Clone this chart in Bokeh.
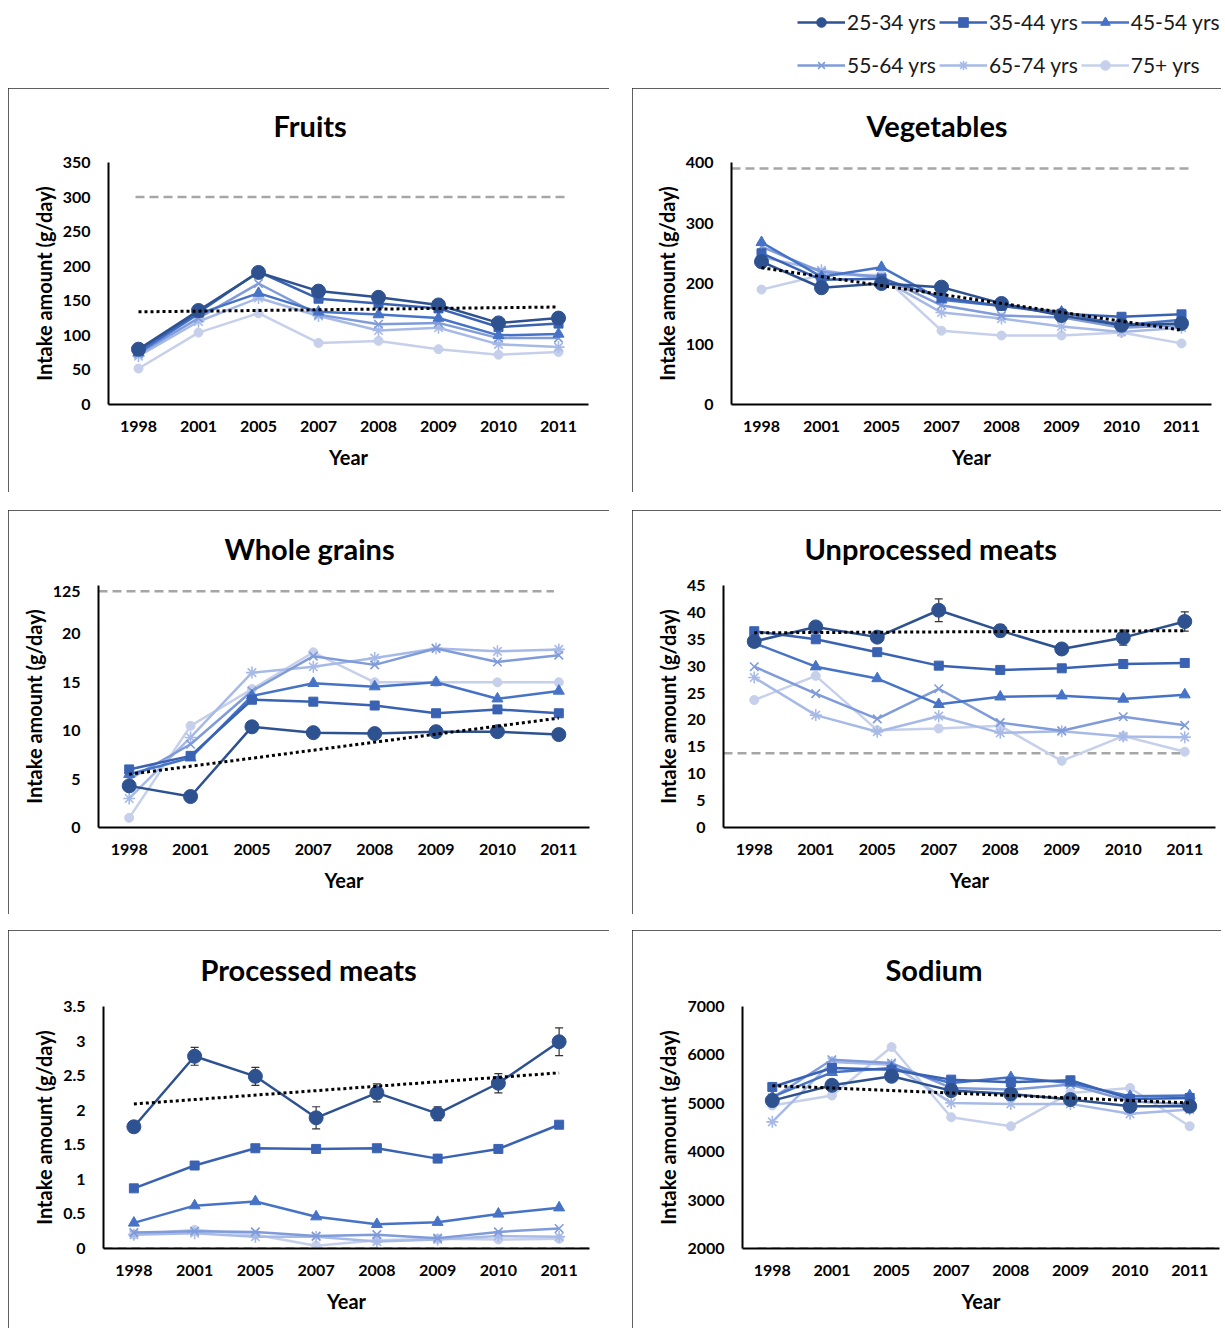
from bokeh.plotting import figure
from bokeh.models import (ColumnDataSource, FactorRange, Range1d, FixedTicker,
                          Whisker, TeeHead, Legend, LegendItem, Spacer)
from bokeh.layouts import column, row
from bokeh.embed import file_html
from bokeh.resources import INLINE

# ---------------- data ----------------
years = ["1998", "2001", "2005", "2007", "2008", "2009", "2010", "2011"]
age_groups = ["25-34 yrs", "35-44 yrs", "45-54 yrs", "55-64 yrs", "65-74 yrs", "75+ yrs"]

# Fruits (g/day)
fruits_25_34 = [80, 136, 191, 164, 155, 144, 118, 125]
fruits_35_44 = [78, 133, 192, 153, 146, 139, 112, 117]
fruits_45_54 = [75, 131, 161, 134, 130, 125, 100, 102]
fruits_55_64 = [73, 125, 175, 130, 116, 118, 96, 96]
fruits_65_74 = [70, 120, 154, 128, 107, 111, 87, 83]
fruits_75_plus = [52, 104, 132, 89, 92, 80, 72, 76]
fruits_err = [5, 6, 6, 6, 5, 5, 5, 6]
fruits_trend = [134, 141]
fruits_target = 300
fruits_ticks = [0, 50, 100, 150, 200, 250, 300, 350]
fruits_tick_labels = ["0", "50", "100", "150", "200", "250", "300", "350"]

# Vegetables (g/day)
veg_25_34 = [236, 193, 200, 194, 167, 147, 131, 134]
veg_35_44 = [250, 206, 208, 177, 163, 150, 145, 149]
veg_45_54 = [268, 211, 227, 173, 163, 153, 131, 140]
veg_55_64 = [261, 219, 211, 164, 147, 144, 127, 131]
veg_65_74 = [244, 222, 208, 152, 142, 129, 120, 127]
veg_75_plus = [190, 214, 214, 122, 114, 114, 119, 101]
veg_err = [6, 5, 5, 6, 5, 5, 4, 5]
veg_trend = [226, 123]
veg_target = 390
veg_ticks = [0, 100, 200, 300, 400]
veg_tick_labels = ["0", "100", "200", "300", "400"]

# Whole grains (g/day)
grains_25_34 = [4.3, 3.2, 10.4, 9.8, 9.7, 9.9, 9.9, 9.6]
grains_35_44 = [6.0, 7.4, 13.2, 13.0, 12.6, 11.8, 12.2, 11.8]
grains_45_54 = [5.5, 7.2, 13.6, 14.9, 14.55, 15.0, 13.3, 14.1]
grains_55_64 = [5.0, 8.6, 14.1, 17.7, 16.8, 18.5, 17.1, 17.8]
grains_65_74 = [3.0, 9.3, 16.0, 16.6, 17.5, 18.5, 18.2, 18.4]
grains_75_plus = [1.0, 10.5, 14.3, 18.1, 15.0, 15.0, 15.0, 15.0]
grains_err = [0.4, 0.3, 0.4, 0.5, 0.4, 0.4, 0.4, 0.4]
grains_trend = [5.5, 11.3]
grains_target = 24.4
grains_ticks = [0, 5, 10, 15, 20, 24.4]
grains_tick_labels = ["0", "5", "10", "15", "20", "125"]

# Unprocessed meats (g/day)
unproc_25_34 = [34.6, 37.3, 35.4, 40.4, 36.6, 33.2, 35.3, 38.3]
unproc_35_44 = [36.5, 35.0, 32.6, 30.1, 29.3, 29.6, 30.4, 30.6]
unproc_45_54 = [34.3, 29.9, 27.7, 22.9, 24.3, 24.5, 23.9, 24.7]
unproc_55_64 = [29.9, 24.9, 20.2, 25.8, 19.5, 18.0, 20.6, 19.0]
unproc_65_74 = [27.9, 20.9, 17.8, 20.7, 17.6, 17.9, 16.9, 16.8]
unproc_75_plus = [23.7, 28.2, 18.1, 18.4, 18.9, 12.4, 17.0, 14.1]
unproc_err = [0.9, 0.9, 0.9, 2.1, 1.1, 0.9, 1.4, 1.8]
unproc_trend = [36.2, 36.6]
unproc_target = 13.8
unproc_ticks = [0, 5, 10, 15, 20, 25, 30, 35, 40, 45]
unproc_tick_labels = ["0", "5", "10", "15", "20", "25", "30", "35", "40", "45"]

# Processed meats (g/day)
proc_25_34 = [1.76, 2.78, 2.49, 1.89, 2.25, 1.95, 2.39, 2.99]
proc_35_44 = [0.87, 1.20, 1.45, 1.44, 1.45, 1.30, 1.44, 1.79]
proc_45_54 = [0.37, 0.62, 0.68, 0.46, 0.35, 0.38, 0.50, 0.59]
proc_55_64 = [0.23, 0.25, 0.24, 0.18, 0.20, 0.15, 0.24, 0.29]
proc_65_74 = [0.20, 0.22, 0.17, 0.17, 0.10, 0.13, 0.18, 0.17]
proc_75_plus = [0.20, 0.27, 0.20, 0.04, 0.12, 0.14, 0.13, 0.14]
proc_err = [0.08, 0.13, 0.13, 0.16, 0.13, 0.10, 0.14, 0.20]
proc_trend = [2.09, 2.54]
proc_target = 0
proc_ticks = [0, 0.5, 1, 1.5, 2, 2.5, 3, 3.5]
proc_tick_labels = ["0", "0.5", "1", "1.5", "2", "2.5", "3", "3.5"]

# Sodium (mg/day)
sodium_25_34 = [5056, 5372, 5558, 5262, 5194, 5077, 4940, 4940]
sodium_35_44 = [5338, 5729, 5695, 5489, 5434, 5475, 5091, 5111]
sodium_45_54 = [5132, 5640, 5729, 5420, 5537, 5420, 5146, 5160]
sodium_55_64 = [5111, 5901, 5832, 5317, 5283, 5386, 5043, 4974]
sodium_65_74 = [4617, 5853, 5798, 5008, 4988, 4988, 4782, 4871]
sodium_75_plus = [4953, 5160, 6162, 4713, 4527, 5214, 5317, 4527]
sodium_err = [60, 70, 70, 70, 60, 60, 70, 70]
sodium_trend = [5365, 5008]
sodium_target = 2000
sodium_ticks = [2000, 3000, 4000, 5000, 6000, 7000]
sodium_tick_labels = ["2000", "3000", "4000", "5000", "6000", "7000"]

# ---------------- styles ----------------
FONT = "Lato"
COLORS = ["#2E5190", "#3A62B3", "#4773C7", "#7F9BDA", "#A7BAE7", "#C6D0EB"]
MARKERS = ["circle", "square", "triangle", "x", "asterisk", "circle"]
SIZES = [14, 9, 11, 12, 12, 9]
MLW = [1, 1, 1, 1.6, 1.6, 1]

panels = [
    dict(title="Fruits", series=[fruits_25_34, fruits_35_44, fruits_45_54, fruits_55_64, fruits_65_74, fruits_75_plus],
         err=fruits_err, trend=fruits_trend, target=fruits_target, ticks=fruits_ticks, labels=fruits_tick_labels,
         yr=(0, 350), w=601, h=404, left=100, fw=480, top=74, bottom=88, toff=165, tgt=(-0.05, 0.1), clip=(False, False)),
    dict(title="Vegetables", series=[veg_25_34, veg_35_44, veg_45_54, veg_55_64, veg_65_74, veg_75_plus],
         err=veg_err, trend=veg_trend, target=veg_target, ticks=veg_ticks, labels=veg_tick_labels,
         yr=(0, 400), w=591, h=404, left=99, fw=480, top=74, bottom=88, toff=135, tgt=(-0.5, 0.12), clip=(True, False)),
    dict(title="Whole grains", series=[grains_25_34, grains_35_44, grains_45_54, grains_55_64, grains_65_74, grains_75_plus],
         err=grains_err, trend=grains_trend, target=grains_target, ticks=grains_ticks, labels=grains_tick_labels,
         yr=(0, 25), w=601, h=404, left=90, fw=491, top=75, bottom=87, toff=126, tgt=(-0.5, -0.08), clip=(False, False)),
    dict(title="Unprocessed meats", series=[unproc_25_34, unproc_35_44, unproc_45_54, unproc_55_64, unproc_65_74, unproc_75_plus],
         err=unproc_err, trend=unproc_trend, target=unproc_target, ticks=unproc_ticks, labels=unproc_tick_labels,
         yr=(0, 45), w=591, h=404, left=91, fw=492, top=74, bottom=87, toff=81, tgt=(-0.5, -0.07), clip=(True, False)),
    dict(title="Processed meats", series=[proc_25_34, proc_35_44, proc_45_54, proc_55_64, proc_65_74, proc_75_plus],
         err=proc_err, trend=proc_trend, target=proc_target, ticks=proc_ticks, labels=proc_tick_labels,
         yr=(0, 3.5), w=601, h=400, left=95, fw=486, top=76, bottom=82, toff=97, tgt=(-0.5, 0.5), clip=(False, True)),
    dict(title="Sodium", series=[sodium_25_34, sodium_35_44, sodium_45_54, sodium_55_64, sodium_65_74, sodium_75_plus],
         err=sodium_err, trend=sodium_trend, target=sodium_target, ticks=sodium_ticks, labels=sodium_tick_labels,
         yr=(2000, 7000), w=591, h=400, left=110, fw=477, top=75, bottom=82, toff=143, tgt=(-0.25, 0.5), clip=(True, True)),
]


def style_axis(ax, label_standoff, axis_standoff):
    ax.axis_line_color = "black"
    ax.axis_line_width = 2
    ax.major_tick_line_color = None
    ax.minor_tick_line_color = None
    ax.major_tick_out = 0
    ax.major_tick_in = 0
    ax.minor_tick_out = 0
    ax.minor_tick_in = 0
    ax.major_label_text_font = FONT
    ax.major_label_text_font_size = "16px"
    ax.major_label_text_font_style = "bold"
    ax.major_label_text_color = "black"
    ax.major_label_standoff = label_standoff
    ax.axis_label_text_font = FONT
    ax.axis_label_text_font_size = "20px"
    ax.axis_label_text_font_style = "bold"
    ax.axis_label_text_color = "black"
    ax.axis_label_standoff = axis_standoff


def make_panel(d):
    right = d["w"] - d["left"] - d["fw"]
    styles = {"outline": "2px solid #2b2b2b", "outline-offset": "-2px"}
    cr, cb = d["clip"]
    if cr or cb:
        styles["clip-path"] = "inset(0 %s %s 0)" % ("2px" if cr else "0", "2px" if cb else "0")
    p = figure(width=d["w"], height=d["h"], title=d["title"],
               x_range=FactorRange(factors=years, range_padding=0),
               y_range=Range1d(d["yr"][0], d["yr"][1]),
               output_backend="svg", toolbar_location=None,
               min_border_left=d["left"], min_border_right=right,
               min_border_top=d["top"], min_border_bottom=d["bottom"],
               outline_line_color=None, background_fill_color="white",
               border_fill_color="white", styles=styles)
    p.xgrid.visible = False
    p.ygrid.visible = False

    p.title.align = "left"
    p.title.offset = d["toff"]
    p.title.vertical_align = "top"
    p.title.standoff = 36
    p.title.text_font = FONT
    p.title.text_font_size = "29px"
    p.title.text_font_style = "bold"
    p.title.text_color = "black"

    # recommended intake reference line
    t0, t1 = d["tgt"]
    p.line(x=[(years[0], t0), (years[-1], t1)], y=[d["target"], d["target"]],
           line_color="#A6A6A6", line_width=2.5, line_dash="9 5")

    # error bars on 25-34 series
    base = d["series"][0]
    esrc = ColumnDataSource(dict(x=years,
                                 lower=[v - e for v, e in zip(base, d["err"])],
                                 upper=[v + e for v, e in zip(base, d["err"])]))
    wh = Whisker(source=esrc, base="x", lower="lower", upper="upper",
                 line_color="#333333", line_width=1.2,
                 upper_head=TeeHead(size=8, line_color="#333333", line_width=1.2),
                 lower_head=TeeHead(size=8, line_color="#333333", line_width=1.2),
                 level="underlay")
    p.add_layout(wh)

    for i in reversed(range(6)):
        vals = d["series"][i]
        src = ColumnDataSource(dict(x=years, y=vals))
        p.line("x", "y", source=src, line_color=COLORS[i], line_width=2.5)
        p.scatter("x", "y", source=src, marker=MARKERS[i], size=SIZES[i],
                  fill_color=COLORS[i], line_color=COLORS[i], line_width=MLW[i])

    # linear trend (25-34 yrs)
    p.line(x=[years[0], years[-1]], y=d["trend"], line_color="black",
           line_width=3, line_dash="3 3")

    p.yaxis.ticker = FixedTicker(ticks=d["ticks"])
    p.yaxis.major_label_overrides = {t: l for t, l in zip(d["ticks"], d["labels"])}
    p.yaxis.axis_label = "Intake amount (g/day)"
    p.xaxis.axis_label = "Year"
    style_axis(p.xaxis[0], 16, 10)
    style_axis(p.yaxis[0], 18, 4)
    return p


figs = [make_panel(d) for d in panels]

# ---------------- legend strip ----------------
lp = figure(width=1215, height=80, x_range=FactorRange(factors=years, range_padding=0),
            y_range=Range1d(0, 1), output_backend="svg", toolbar_location=None,
            min_border=0, outline_line_color=None, x_axis_location=None, y_axis_location=None)
lp.grid.visible = False
items = []
legend_series = panels[0]["series"]
for i in range(6):
    src = ColumnDataSource(dict(x=years, y=legend_series[i]))
    lr = lp.line("x", "y", source=src, line_color=COLORS[i], line_width=2.5)
    sr = lp.scatter("x", "y", source=src, marker=MARKERS[i], size=SIZES[i],
                    fill_color=COLORS[i], line_color=COLORS[i], line_width=MLW[i])
    items.append(LegendItem(label=age_groups[i], renderers=[lr, sr]))

for k, loc in enumerate([(789, 54), (789, 11)]):
    lg = Legend(items=items[3 * k:3 * k + 3], location=loc, orientation="horizontal",
                glyph_width=48, glyph_height=24, label_height=24, label_standoff=2,
                spacing=3, padding=0, margin=0, border_line_color=None,
                background_fill_alpha=0, label_text_font=FONT, label_text_font_size="21px",
                label_text_color="#1a1a1a", label_text_baseline="middle")
    lp.add_layout(lg)

inner = column(
    lp,
    row(figs[0], Spacer(width=23, height=404), figs[1]),
    Spacer(width=1215, height=18),
    row(figs[2], Spacer(width=23, height=404), figs[3]),
    Spacer(width=1215, height=16),
    row(figs[4], Spacer(width=23, height=400), figs[5]),
)
layout = column(Spacer(width=1223, height=8), row(Spacer(width=8, height=1322), inner))

open("out.html", "w").write(file_html(layout, INLINE))
